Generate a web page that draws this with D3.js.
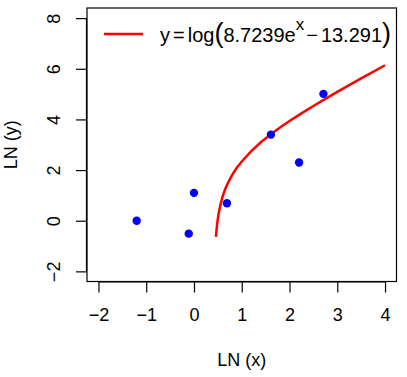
<!DOCTYPE html>
<html>
<head>
<meta charset="utf-8">
<script src="https://cdn.jsdelivr.net/npm/d3@7"></script>
<style>
  body { margin: 0; background: #fff; }
  text { font-family: "Liberation Sans", Arial, sans-serif; fill: #000; }
</style>
</head>
<body>
<svg id="chart"></svg>
<script>
// observed points (LN scale)
const pointX = [-1.20, -0.11, 0.00, 0.69, 1.61, 2.20, 2.71];
const pointY = [0.00, -0.51, 1.10, 0.69, 3.40, 2.30, 5.01];

// fitted curve
const curveX = [0.46, 0.47, 0.48, 0.50, 0.52, 0.55, 0.60, 0.65, 0.70, 0.80, 0.90, 1.00,
                1.20, 1.40, 1.60, 1.80, 2.00, 2.25, 2.50, 2.75, 3.00, 3.50, 4.00];
const curveY = [-0.64, -0.41, -0.21, 0.09, 0.32, 0.60, 0.96, 1.23, 1.45, 1.81, 2.10, 2.34,
                2.75, 3.10, 3.40, 3.68, 3.94, 4.24, 4.53, 4.81, 5.09, 5.62, 6.14];

const xTicks = [-2, -1, 0, 1, 2, 3, 4];
const yTicks = [-2, 0, 2, 4, 6, 8];

const W = 407, H = 377;
const box = { left: 87, right: 396.5, top: 8, bottom: 281.5 };
const fs = 18;

const svg = d3.select("#chart")
    .attr("width", W)
    .attr("height", H)
    .attr("viewBox", [0, 0, W, H]);

const x = d3.scaleLinear().domain([-2.24, 4.24]).range([box.left, box.right]);
const y = d3.scaleLinear().domain([-2.4, 8.4]).range([box.bottom, box.top]);

const minus = d => d < 0 ? "\u2212" + Math.abs(d) : d;

// plot frame
svg.append("rect")
    .attr("x", box.left)
    .attr("y", box.top)
    .attr("width", box.right - box.left)
    .attr("height", box.bottom - box.top)
    .attr("fill", "none")
    .attr("stroke", "#000")
    .attr("stroke-width", 1.2);

// x axis
const xAxis = svg.append("g")
    .attr("transform", `translate(0,${box.bottom})`)
    .call(d3.axisBottom(x).tickValues(xTicks).tickSize(11).tickPadding(16).tickFormat(minus));
xAxis.select(".domain").attr("d", `M${x(-2)},0.5H${x(4)}`).attr("stroke-width", 1.2);
xAxis.selectAll(".tick line").attr("stroke-width", 1.2);
xAxis.selectAll(".tick text")
    .attr("font-size", fs)
    .attr("font-family", "Liberation Sans, Arial, sans-serif")
    .attr("fill", "#000");

// y axis, labels turned like R's las=0
const yAxis = svg.append("g")
    .attr("transform", `translate(${box.left},0)`)
    .call(d3.axisLeft(y).tickValues(yTicks).tickSize(11).tickPadding(0).tickFormat(minus));
yAxis.select(".domain").attr("d", `M-0.5,${y(-2)}V${y(8)}`).attr("stroke-width", 1.2);
yAxis.selectAll(".tick line").attr("stroke-width", 1.2);
yAxis.selectAll(".tick text")
    .attr("x", 0)
    .attr("dy", null)
    .attr("transform", "translate(-33,0) rotate(-90)")
    .attr("text-anchor", "middle")
    .attr("dominant-baseline", "central")
    .attr("font-size", fs)
    .attr("font-family", "Liberation Sans, Arial, sans-serif")
    .attr("fill", "#000");

// axis titles
svg.append("text")
    .attr("x", (box.left + box.right) / 2)
    .attr("y", 366)
    .attr("text-anchor", "middle")
    .attr("font-size", fs)
    .text("LN (x)");

svg.append("text")
    .attr("transform", `translate(16.5,${(box.top + box.bottom) / 2}) rotate(-90)`)
    .attr("text-anchor", "middle")
    .attr("font-size", fs)
    .text("LN (y)");

// fitted curve
const line = d3.line()
    .x((d, i) => x(curveX[i]))
    .y(d => y(d));

svg.append("path")
    .attr("fill", "none")
    .attr("stroke", "#ff0000")
    .attr("stroke-width", 2.5)
    .attr("d", line(curveY));

// points
svg.append("g")
    .selectAll("circle")
    .data(pointX)
    .join("circle")
    .attr("cx", d => x(d))
    .attr("cy", (d, i) => y(pointY[i]))
    .attr("r", 4.2)
    .attr("fill", "#0000ff");

// legend (no box)
svg.append("line")
    .attr("x1", 104).attr("x2", 143)
    .attr("y1", 34).attr("y2", 34)
    .attr("stroke", "#ff0000")
    .attr("stroke-width", 2.5);

const lt = svg.append("text")
    .attr("x", 160)
    .attr("y", 42)
    .attr("font-size", 20);
lt.append("tspan").text("y");
lt.append("tspan").attr("dx", 3).text("=");
lt.append("tspan").attr("dx", 3).text("log");
lt.append("tspan").attr("font-size", 27).text("(");
lt.append("tspan").text("8.7239e");
lt.append("tspan").attr("font-size", 17).attr("dy", -12).text("x");
lt.append("tspan").attr("dy", 12).attr("dx", 2).text("\u2212");
lt.append("tspan").attr("dx", 3).text("13.291");
lt.append("tspan").attr("font-size", 27).text(")");
</script>
</body>
</html>
